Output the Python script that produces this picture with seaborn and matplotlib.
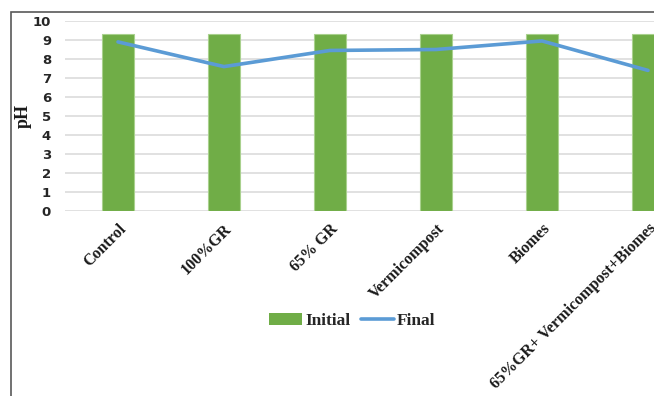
import matplotlib
matplotlib.use("Agg")
import matplotlib.pyplot as plt
from matplotlib.patches import Rectangle
from matplotlib.lines import Line2D
import seaborn as sns
import pandas as pd

treatments = ["Control", "100%GR", "65% GR", "Vermicompost", "Biomes",
              "65%GR+ Vermicompost+Biomes"]
initial_ph = [9.3, 9.3, 9.3, 9.3, 9.3, 9.3]
final_ph = [8.9, 7.6, 8.45, 8.5, 8.95, 7.4]
y_ticks = list(range(0, 11))

sns.set_theme(style="white")
plt.rcParams["font.family"] = ["DejaVu Sans"]

df = pd.DataFrame({"Treatment": treatments, "Initial": initial_ph,
                   "Final": final_ph, "pos": range(len(treatments))})

fig = plt.figure(figsize=(6.54, 3.96), dpi=100)
ax = fig.add_axes([65 / 654, (396 - 211) / 396, 636 / 654, 190 / 396])

bar_color = "#70AD47"
line_color = "#5B9BD5"

sns.barplot(data=df, x="Treatment", y="Initial", color=bar_color,
            width=0.3, saturation=1, ax=ax, zorder=2)
for p in ax.patches:
    p.set_edgecolor("#A9D18E")
    p.set_linewidth(0.8)
sns.lineplot(data=df, x="pos", y="Final", color=line_color, linewidth=2.6,
             ax=ax, zorder=3, legend=False)

ax.set_xlim(-0.5, len(treatments) - 0.5)
ax.set_ylim(0, 10)
ax.set_yticks(y_ticks)
ax.yaxis.grid(True, color="#D9D9D9", linewidth=1.1, zorder=0)
ax.set_axisbelow(True)
for s in ax.spines.values():
    s.set_visible(False)
ax.tick_params(axis="both", length=0)
ax.tick_params(axis="y", pad=10)

for lbl in ax.get_yticklabels():
    lbl.set_fontweight("bold")
    lbl.set_fontsize(9.5)
    lbl.set_color("#262626")

ax.set_xticks(range(len(treatments)))
ax.set_xticklabels(treatments, rotation=45, ha="right", va="top",
                   rotation_mode="anchor", fontfamily="Liberation Serif",
                   fontweight="bold", fontsize=11.5, color="#1a1a1a")
ax.tick_params(axis="x", pad=7)

ax.set_xlabel("")
ax.set_ylabel("pH", fontfamily="Liberation Serif", fontweight="bold",
              fontsize=13, color="#1a1a1a", labelpad=1)

handles = [Rectangle((0, 0), 1, 1, facecolor=bar_color, edgecolor="none"),
           Line2D([0], [0], color=line_color, linewidth=2.6)]
fig.legend(handles, ["Initial", "Final"], loc="center",
           bbox_to_anchor=(352 / 654, 1 - 321 / 396), ncol=2, frameon=False,
           prop={"family": "Liberation Serif", "weight": "bold", "size": 12.5},
           handlelength=1.9, handletextpad=0.2, columnspacing=0.6)

# outer chart border
fig.add_artist(Rectangle((11 / 654, -0.1), 1.2, (1 - 12 / 396) + 0.1,
                         transform=fig.transFigure, fill=False,
                         edgecolor="#595959", linewidth=1.2))

fig.savefig("out.png", dpi=100)
